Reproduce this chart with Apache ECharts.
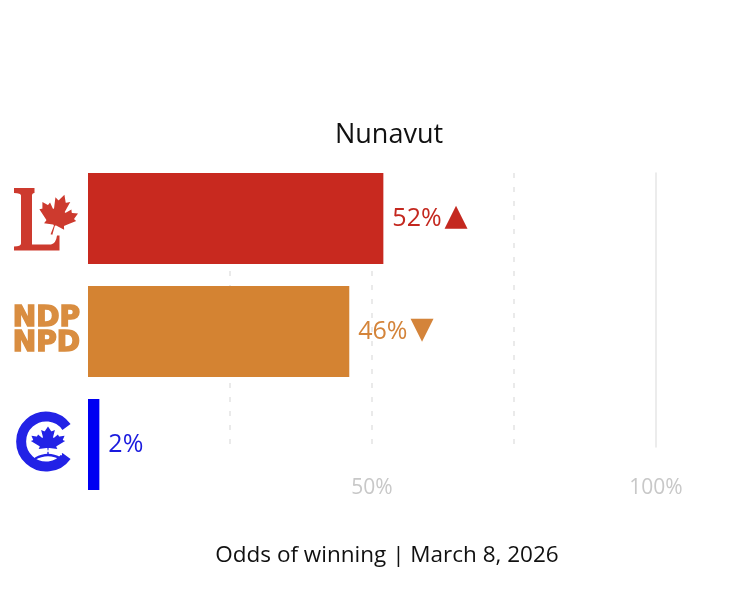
<!DOCTYPE html>
<html>
<head>
<meta charset="utf-8">
<script src="https://cdn.jsdelivr.net/npm/echarts@6/dist/echarts.min.js"></script>
<style>html,body{margin:0;padding:0;background:#fff}#c{width:741px;height:616px}</style>
</head>
<body>
<div id="c"></div>
<script>
const regionName = 'Nunavut';
const footerText = 'Odds of winning | March 8, 2026';
const parties = ['LPC', 'NDP', 'CPC'];
const odds = [52, 46, 2];
const trend = ['up', 'down', ''];
const barColors = ['#c8291f', '#d48332', '#0000f2'];
const labelColors = ['#c4281f', '#d4843a', '#1a1ade'];
const tickValues = [0, 25, 50, 75, 100];
const shownTicks = [50, 100];

const LEAF = 'm-90 2030 45-863a95 95 0 0 0-111-98l-859 151 116-320a65 65 0 0 0-20-73l-941-762 212-99a65 65 0 0 0 34-79l-186-572 542 115a65 65 0 0 0 73-38l105-247 423 454a65 65 0 0 0 111-57l-204-1052 327 189a65 65 0 0 0 91-27l332-652 332 652a65 65 0 0 0 91 27l327-189-204 1052a65 65 0 0 0 111 57l423-454 105 247a65 65 0 0 0 73 38l542-115-186 572a65 65 0 0 0 34 79l212 99-941 762a65 65 0 0 0-20 73l116 320-859-151a95 95 0 0 0-111 98l45 863z';

const libSvg = '<svg xmlns="http://www.w3.org/2000/svg" width="66" height="68" viewBox="0 0 66 68">' +
  '<path fill="#cd3a2e" d="M0 3.5 H20.5 V8.5 Q18 8.5 18 11 V60 H37 Q42 59 43 51 H45.5 V66 H0 V62 Q7 62 7 59 V11 Q7 8.5 0 8.5 Z"/>' +
  '<path fill="#cd3a2e" transform="translate(44 30) rotate(18) scale(0.0104)" d="' + LEAF + '"/>' +
  '</svg>';

const cpcSvg = '<svg xmlns="http://www.w3.org/2000/svg" width="66" height="80" viewBox="0 0 66 80">' +
  '<path fill="none" stroke="#2222e6" stroke-width="10" d="M52.5 22.5 A25 25 0 1 0 52.5 51.5"/>' +
  '<path fill="#2222e6" transform="translate(34 36) scale(0.0092 0.0070)" d="' + LEAF + '"/>' +
  '<path fill="#ffffff" d="M20 49.5 Q34 42 48 49.5 L48 51 Q34 43.5 20 51 Z"/>' +
  '<path fill="#2222e6" d="M21 53 Q34 45.5 47 53 L47 55.5 Q34 48 21 55.5 Z"/>' +
  '</svg>';

function svgUri(s) { return 'data:image/svg+xml;charset=utf-8,' + encodeURIComponent(s); }

const chart = echarts.init(document.getElementById('c'), null, { renderer: 'canvas' });

const option = {
  backgroundColor: '#ffffff',
  animation: false,
  title: [
    { text: regionName, left: 384, top: 117, textAlign: 'center',
      textStyle: { fontFamily: 'Open Sans', fontSize: 27, fontWeight: 'normal', color: '#111' } },
    { text: footerText, left: 382, top: 539, textAlign: 'center',
      textStyle: { fontFamily: 'Open Sans', fontSize: 22.5, fontWeight: 'normal', color: '#111' } }
  ],
  grid: [
    { left: 88, right: 85, top: 162, height: 339 },
    { left: 88, right: 85, top: 173, height: 274 }
  ],
  xAxis: [
    { gridIndex: 0, type: 'value', min: 0, max: 100, show: false },
    { gridIndex: 1, type: 'value', min: 0, max: 100, interval: 25,
      axisLine: { show: false }, axisTick: { show: false },
      axisLabel: { margin: 31, fontFamily: 'Open Sans', fontSize: 21, color: '#c8c8c8',
        formatter: v => shownTicks.indexOf(v) >= 0 ? v + '%' : '' },
      splitLine: { show: true, showMinLine: false, showMaxLine: false,
        lineStyle: { color: '#e4e4e4', width: 1.5, type: [5, 9] } } }
  ],
  yAxis: [
    { gridIndex: 0, type: 'category', data: parties, inverse: true,
      axisLine: { show: false }, axisTick: { show: false }, splitLine: { show: false },
      axisLabel: {
        margin: 8,
        formatter: v => '{' + v + '|' + (v === 'NDP' ? 'NDP\nNPD' : '') + '}',
        rich: {
          LPC: { width: 66, height: 68, backgroundColor: { image: svgUri(libSvg) } },
          CPC: { width: 66, height: 80, backgroundColor: { image: svgUri(cpcSvg) } },
          NDP: { fontFamily: 'DejaVu Sans', fontWeight: 'bold', fontSize: 28, lineHeight: 25,
                 color: '#d98d40', textBorderColor: '#d98d40', textBorderWidth: 1.6, align: 'right' }
        }
      } },
    { gridIndex: 1, type: 'value', min: 0, max: 1, position: 'right',
      axisLine: { show: true, onZero: false, lineStyle: { color: '#e6e6e6', width: 1.5 } },
      axisTick: { show: false }, axisLabel: { show: false }, splitLine: { show: false } }
  ],
  series: [
    {
      type: 'bar', xAxisIndex: 0, yAxisIndex: 0, barWidth: 91, z: 3,
      data: odds.map((v, i) => ({
        value: v,
        itemStyle: { color: barColors[i] },
        label: {
          show: true, position: 'right', distance: 9,
          formatter: '{v|' + v + '%}' + (trend[i] === 'up' ? '{t|▲}' : trend[i] === 'down' ? '{t|▼}' : ''),
          rich: {
            v: { fontFamily: 'Open Sans', fontSize: 25, color: labelColors[i] },
            t: { fontFamily: 'DejaVu Sans', fontSize: 30, color: labelColors[i], padding: [0, 0, 2, 3] }
          }
        }
      }))
    },
    { type: 'scatter', xAxisIndex: 1, yAxisIndex: 1, data: [], silent: true }
  ]
};
chart.setOption(option);
</script>
</body>
</html>
